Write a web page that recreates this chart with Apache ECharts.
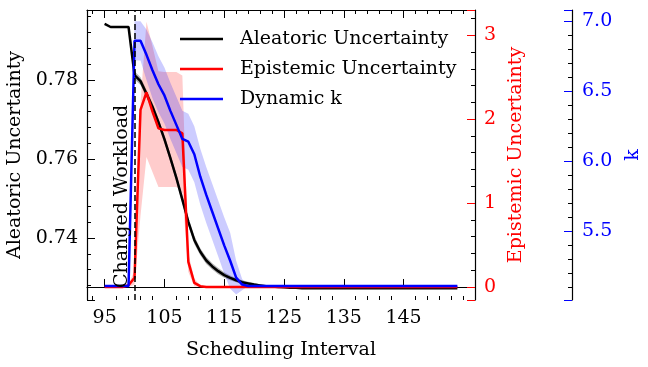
<!DOCTYPE html>
<html>
<head>
<meta charset="utf-8">
<script src="https://cdn.jsdelivr.net/npm/echarts@6.0.0/dist/echarts.min.js"></script>
<style>
  html, body { margin: 0; padding: 0; background: #fff; }
  #chart { width: 648px; height: 367px; }
</style>
</head>
<body>
<div id="chart"></div>
<script>
// scheduling intervals (x)
const intervals = [95, 96, 97, 98, 99, 100, 101, 102, 103, 104, 105, 106, 107, 108, 109, 110, 111, 112, 113, 114,
  115, 116, 117, 118, 119, 120, 121, 122, 123, 124, 125, 126, 127, 128, 129, 130, 131, 132, 133, 134,
  135, 136, 137, 138, 139, 140, 141, 142, 143, 144, 145, 146, 147, 148, 149, 150, 151, 152, 153, 154];

// aleatoric uncertainty, mean and spread
const aleatoric = [0.7942, 0.7934, 0.7934, 0.7934, 0.7934, 0.7812, 0.7797, 0.7765, 0.7732, 0.7693,
  0.7650, 0.7602, 0.7552, 0.7497, 0.7441, 0.7395, 0.7365, 0.7343, 0.7328, 0.7316,
  0.7306, 0.7299, 0.7293, 0.7288, 0.7285, 0.7282, 0.7280, 0.7278, 0.7277, 0.7276,
  0.7275, 0.7274, 0.7274, 0.7273, 0.7273, 0.7273, 0.7273, 0.7273, 0.7273, 0.7273,
  0.7273, 0.7273, 0.7273, 0.7273, 0.7273, 0.7273, 0.7273, 0.7273, 0.7273, 0.7273,
  0.7273, 0.7273, 0.7273, 0.7273, 0.7273, 0.7273, 0.7273, 0.7273, 0.7273, 0.7273];
const aleatoricStd = [0.0002, 0.0002, 0.0002, 0.0002, 0.0002, 0.0010, 0.0010, 0.0010, 0.0010, 0.0010,
  0.0010, 0.0010, 0.0010, 0.0010, 0.0010, 0.0010, 0.0009, 0.0009, 0.0008, 0.0008,
  0.0007, 0.0006, 0.0005, 0.0005, 0.0004, 0.0004, 0.0003, 0.0003, 0.0003, 0.0002,
  0.0002, 0.0001, 0.0001, 0, 0, 0, 0, 0, 0, 0,
  0, 0, 0, 0, 0, 0, 0, 0, 0, 0,
  0, 0, 0, 0, 0, 0, 0, 0, 0, 0];

// epistemic uncertainty, mean and band
const epistemic = [0, 0, 0, 0, 0.02, 0.11, 2.11, 2.32, 2.09, 1.89,
  1.87, 1.87, 1.87, 1.83, 0.30, 0.05, 0.01, 0, 0, 0,
  0, 0, 0, 0, 0, 0, 0, 0, 0, 0,
  0, 0, 0, 0, 0, 0, 0, 0, 0, 0,
  0, 0, 0, 0, 0, 0, 0, 0, 0, 0,
  0, 0, 0, 0, 0, 0, 0, 0, 0, 0];
const epistemicHigh = [0, 0, 0, 0, 0.03, 0.2, 2.2, 3.16, 2.87, 2.57,
  2.56, 2.56, 2.56, 2.52, 0.4, 0.1, 0.02, 0, 0, 0,
  0, 0, 0, 0, 0, 0, 0, 0, 0, 0,
  0, 0, 0, 0, 0, 0, 0, 0, 0, 0,
  0, 0, 0, 0, 0, 0, 0, 0, 0, 0,
  0, 0, 0, 0, 0, 0, 0, 0, 0, 0];
const epistemicLow = [0, 0, 0, 0, 0, 0.03, 0.85, 1.55, 1.37, 1.19,
  1.19, 1.19, 1.19, 1.12, 0.18, 0.01, 0, 0, 0, 0,
  0, 0, 0, 0, 0, 0, 0, 0, 0, 0,
  0, 0, 0, 0, 0, 0, 0, 0, 0, 0,
  0, 0, 0, 0, 0, 0, 0, 0, 0, 0,
  0, 0, 0, 0, 0, 0, 0, 0, 0, 0];

// dynamic k, mean and spread
const dynamicK = [5.11, 5.11, 5.11, 5.11, 5.11, 6.86, 6.86, 6.76, 6.65, 6.55,
  6.47, 6.36, 6.26, 6.16, 6.14, 6.05, 5.89, 5.76, 5.64, 5.52,
  5.40, 5.29, 5.17, 5.12, 5.11, 5.11, 5.11, 5.11, 5.11, 5.11,
  5.11, 5.11, 5.11, 5.11, 5.11, 5.11, 5.11, 5.11, 5.11, 5.11,
  5.11, 5.11, 5.11, 5.11, 5.11, 5.11, 5.11, 5.11, 5.11, 5.11,
  5.11, 5.11, 5.11, 5.11, 5.11, 5.11, 5.11, 5.11, 5.11, 5.11];
const dynamicKStd = [0, 0, 0, 0, 0, 0.14, 0.14, 0.18, 0.2, 0.2,
  0.2, 0.2, 0.2, 0.2, 0.2, 0.2, 0.2, 0.2, 0.2, 0.2,
  0.2, 0.2, 0.12, 0.04, 0, 0, 0, 0, 0, 0,
  0, 0, 0, 0, 0, 0, 0, 0, 0, 0,
  0, 0, 0, 0, 0, 0, 0, 0, 0, 0,
  0, 0, 0, 0, 0, 0, 0, 0, 0, 0];

// tick labels
const xTickLabels = [95, 105, 115, 125, 135, 145];
const xMinorTicks = [93, 97, 99, 101, 103, 107, 109, 111, 113, 117, 119, 121, 123, 127, 129, 131, 133,
  137, 139, 141, 143, 147, 149, 151, 153, 155];
const changeAt = 100;

const FONT = 'DejaVu Serif';
const FS = 19;

function pairs(ys) {
  return intervals.map((x, i) => [x, ys[i]]);
}

// shaded band as one polygon, points placed through the axis scales
function band(yIdx, low, high, color, opacity) {
  return {
    type: 'custom', yAxisIndex: yIdx, silent: true, clip: true,
    data: intervals.map((x, i) => [x, low[i], high[i]]),
    encode: { x: 0, y: [1, 2] },
    renderItem: function (params, api) {
      if (params.dataIndex !== 0) return null;
      const top = intervals.map((x, i) => api.coord([x, high[i]]));
      const bottom = intervals.map((x, i) => api.coord([x, low[i]])).reverse();
      return {
        type: 'polygon',
        shape: { points: top.concat(bottom) },
        style: { fill: color, opacity: opacity }
      };
    }
  };
}

const aleLow = aleatoric.map((v, i) => v - aleatoricStd[i]);
const aleHigh = aleatoric.map((v, i) => v + aleatoricStd[i]);
const kLow = dynamicK.map((v, i) => v - dynamicKStd[i]);
const kHigh = dynamicK.map((v, i) => v + dynamicKStd[i]);

const chart = echarts.init(document.getElementById('chart'));

const xCommon = {
  type: 'value', min: 92.05, max: 156.95,
  splitLine: { show: false }
};

const option = {
  animation: false,
  textStyle: { fontFamily: FONT },
  grid: { left: 87, right: 173, top: 10, bottom: 67, containLabel: false, outerBoundsMode: 'none' },
  legend: {
    data: ['Aleatoric Uncertainty', 'Epistemic Uncertainty', 'Dynamic k'],
    orient: 'vertical', left: 175, top: 24,
    icon: 'rect', itemWidth: 43, itemHeight: 2.5, itemGap: 10,
    textStyle: { fontFamily: FONT, fontSize: FS, color: '#000', lineHeight: 20, padding: [0, 0, 0, 12] }
  },
  xAxis: [
    Object.assign({}, xCommon, {
      position: 'bottom',
      name: 'Scheduling Interval', nameLocation: 'middle', nameGap: 41,
      nameTextStyle: { fontFamily: FONT, fontSize: FS, color: '#000' },
      axisLine: { show: true, lineStyle: { color: '#000', width: 1.2 } },
      axisTick: { show: true, inside: true, length: 8, customValues: xTickLabels, lineStyle: { color: '#000' } },
      axisLabel: { show: true, customValues: xTickLabels, margin: 9, fontFamily: FONT, fontSize: FS, color: '#000' }
    }),
    Object.assign({}, xCommon, {
      position: 'bottom',
      axisLine: { show: false },
      axisTick: { show: true, inside: true, length: 4, customValues: xMinorTicks, lineStyle: { color: '#000' } },
      axisLabel: { show: false }
    }),
    Object.assign({}, xCommon, {
      position: 'top',
      axisLine: { show: true, lineStyle: { color: '#000', width: 1.2 } },
      axisTick: { show: true, inside: true, length: 8, customValues: xTickLabels, lineStyle: { color: '#000' } },
      axisLabel: { show: false }
    }),
    Object.assign({}, xCommon, {
      position: 'top',
      axisLine: { show: false },
      axisTick: { show: true, inside: true, length: 4, customValues: xMinorTicks, lineStyle: { color: '#000' } },
      axisLabel: { show: false }
    })
  ],
  yAxis: [
    {
      type: 'value', position: 'left', min: 0.7243, max: 0.7977, splitNumber: 4,
      name: 'Aleatoric Uncertainty', nameLocation: 'middle', nameRotate: 90, nameGap: 54,
      nameTextStyle: { fontFamily: FONT, fontSize: FS, color: '#000' },
      splitLine: { show: false },
      axisLine: { show: true, lineStyle: { color: '#000', width: 1.2 } },
      axisTick: { show: true, inside: true, length: 8, lineStyle: { color: '#000' } },
      minorTick: { show: true, splitNumber: 5, length: 4, lineStyle: { color: '#000' } },
      axisLabel: {
        showMinLabel: false, showMaxLabel: false, margin: 9,
        fontFamily: FONT, fontSize: FS, color: '#000',
        formatter: v => v.toFixed(2)
      }
    },
    {
      type: 'value', position: 'right', min: -0.155, max: 3.30, splitNumber: 4,
      name: 'Epistemic Uncertainty', nameLocation: 'middle', nameRotate: 90, nameGap: 24,
      nameTextStyle: { fontFamily: FONT, fontSize: FS, color: '#ff0000' },
      splitLine: { show: false },
      axisLine: { show: true, lineStyle: { color: '#000', width: 1.2 } },
      axisTick: { show: true, inside: true, length: 8, lineStyle: { color: '#ff0000' } },
      minorTick: { show: true, splitNumber: 5, length: 4, lineStyle: { color: '#000' } },
      axisLabel: {
        showMinLabel: false, showMaxLabel: false, margin: 9,
        fontFamily: FONT, fontSize: FS, color: '#ff0000'
      }
    },
    {
      type: 'value', position: 'right', offset: 97, min: 5.01, max: 7.08, splitNumber: 4,
      name: 'k', nameLocation: 'middle', nameRotate: 90, nameGap: 42,
      nameTextStyle: { fontFamily: FONT, fontSize: FS, color: '#0000ff' },
      splitLine: { show: false },
      axisLine: { show: true, lineStyle: { color: '#000', width: 1.2 } },
      axisTick: { show: true, inside: true, length: 8, lineStyle: { color: '#0000ff' } },
      minorTick: { show: true, splitNumber: 5, length: 4, lineStyle: { color: '#000' } },
      axisLabel: {
        showMinLabel: false, showMaxLabel: false, margin: 10,
        fontFamily: FONT, fontSize: FS, color: '#0000ff',
        formatter: v => v.toFixed(1)
      }
    }
  ],
  series: [
    band(0, aleLow, aleHigh, '#000000', 0.3),
    {
      name: 'Aleatoric Uncertainty', type: 'line', yAxisIndex: 0,
      data: pairs(aleatoric), symbol: 'none',
      lineStyle: { color: '#000000', width: 2.5 }, itemStyle: { color: '#000000' },
      markLine: {
        symbol: 'none', silent: true,
        lineStyle: { color: '#000', type: [6, 3], width: 1.5 },
        label: {
          show: true, position: 'insideStartTop', formatter: 'Changed Workload',
          fontFamily: FONT, fontSize: FS, color: '#000', distance: [12, 3]
        },
        data: [{ xAxis: changeAt }]
      }
    },
    band(1, epistemicLow, epistemicHigh, '#ff0000', 0.2),
    {
      name: 'Epistemic Uncertainty', type: 'line', yAxisIndex: 1,
      data: pairs(epistemic), symbol: 'none',
      lineStyle: { color: '#ff0000', width: 2.5 }, itemStyle: { color: '#ff0000' }
    },
    band(2, kLow, kHigh, '#0000ff', 0.2),
    {
      name: 'Dynamic k', type: 'line', yAxisIndex: 2,
      data: pairs(dynamicK), symbol: 'none',
      lineStyle: { color: '#0000ff', width: 2.5 }, itemStyle: { color: '#0000ff' }
    }
  ]
};

chart.setOption(option);
</script>
</body>
</html>
